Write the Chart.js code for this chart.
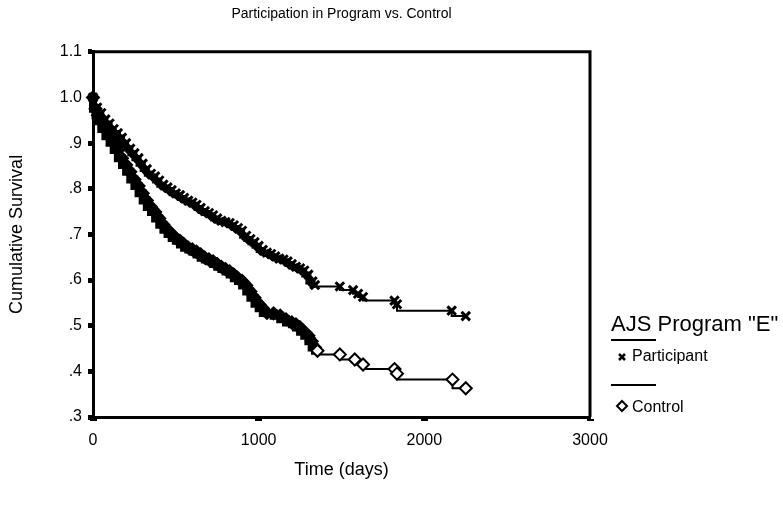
<!DOCTYPE html>
<html>
<head>
<meta charset="utf-8">
<script src="https://cdn.jsdelivr.net/npm/chart.js@4"></script>
<style>
  html, body { margin: 0; padding: 0; background: #fff; }
</style>
</head>
<body>
<canvas id="chart" width="783" height="514"></canvas>
<script>
const FONT = '"Liberation Sans", Arial, Helvetica, sans-serif';

const chartTitle = 'Participation in Program vs. Control';
const xTitle = 'Time (days)';
const yTitle = 'Cumulative Survival';
const legendTitle = 'AJS Program "E"';
const seriesNames = ['Participant', 'Control'];

const xTickValues = [0, 1000, 2000, 3000];
const xTickLabels = ['0', '1000', '2000', '3000'];
const yTickValues = [0.3, 0.4, 0.5, 0.6, 0.7, 0.8, 0.9, 1.0, 1.1];
const yTickLabels = ['.3', '.4', '.5', '.6', '.7', '.8', '.9', '1.0', '1.1'];

// Kaplan-Meier estimates (days, cumulative survival)
const partDays = [0, 25, 50, 75, 100, 125, 150, 175, 200, 225, 250, 275, 300, 325, 350, 375, 400, 425, 450, 475,
  500, 525, 550, 575, 600, 625, 650, 675, 700, 725, 750, 775, 800, 825, 850, 875, 900, 925, 950, 975,
  1000, 1025, 1050, 1075, 1100, 1125, 1150, 1175, 1200, 1225, 1250, 1275, 1300, 1325, 1340,
  1490, 1570, 1600, 1630, 1820, 1835, 2165, 2250];
const partSurv = [1.0, 0.978, 0.966, 0.952, 0.943, 0.931, 0.922, 0.912, 0.9, 0.888, 0.878, 0.867, 0.855, 0.843, 0.833, 0.827, 0.818, 0.809, 0.803, 0.797,
  0.79, 0.786, 0.78, 0.774, 0.77, 0.765, 0.758, 0.751, 0.747, 0.742, 0.735, 0.73, 0.727, 0.725, 0.72, 0.714, 0.708, 0.697, 0.69, 0.683,
  0.675, 0.666, 0.66, 0.657, 0.652, 0.647, 0.645, 0.641, 0.635, 0.629, 0.626, 0.621, 0.612, 0.597, 0.589,
  0.586, 0.578, 0.57, 0.563, 0.555, 0.547, 0.533, 0.521];

const ctrlDays = [0, 15, 30, 50, 75, 100, 125, 150, 175, 200, 225, 250, 275, 300, 325, 350, 375, 400, 425, 450, 475,
  500, 525, 550, 575, 600, 625, 650, 675, 700, 725, 750, 775, 800, 825, 850, 875, 900, 925, 950, 975,
  1000, 1025, 1050, 1090, 1130, 1165, 1200, 1225, 1250, 1275, 1300, 1320, 1340, 1355,
  1490, 1580, 1630, 1820, 1835, 2170, 2250];
const ctrlSurv = [1.0, 0.975, 0.961, 0.948, 0.931, 0.915, 0.901, 0.885, 0.867, 0.852, 0.837, 0.82, 0.806, 0.79, 0.774, 0.76, 0.749, 0.735, 0.721, 0.71, 0.701,
  0.692, 0.686, 0.678, 0.671, 0.667, 0.662, 0.656, 0.649, 0.645, 0.641, 0.635, 0.629, 0.624, 0.619, 0.612, 0.604, 0.598, 0.588, 0.575, 0.561,
  0.548, 0.538, 0.528, 0.527, 0.522, 0.514, 0.507, 0.503, 0.496, 0.487, 0.478, 0.466, 0.452, 0.445,
  0.437, 0.426, 0.415, 0.405, 0.395, 0.382, 0.363];

// where the censor marks stop piling up into a solid band
const PART_DENSE_END = 1340;
const CTRL_DENSE_END = 1355;

const toPoints = (days, surv) => days.map((d, i) => ({ x: d, y: surv[i] }));

// top and right edges of the frame
const framePlugin = {
  id: 'frame',
  beforeDatasetsDraw(chart) {
    const { ctx, chartArea: a } = chart;
    ctx.save();
    ctx.strokeStyle = '#000';
    ctx.lineWidth = 3;
    ctx.beginPath();
    ctx.moveTo(a.left, a.top);
    ctx.lineTo(a.right, a.top);
    ctx.lineTo(a.right, a.bottom);
    ctx.stroke();
    ctx.restore();
  },
};

function drawCross(ctx, x, y, r) {
  ctx.beginPath();
  ctx.moveTo(x - r, y - r); ctx.lineTo(x + r, y + r);
  ctx.moveTo(x + r, y - r); ctx.lineTo(x - r, y + r);
  ctx.stroke();
}

function drawDiamond(ctx, x, y, r) {
  ctx.beginPath();
  ctx.moveTo(x, y - r); ctx.lineTo(x + r, y); ctx.lineTo(x, y + r); ctx.lineTo(x - r, y);
  ctx.closePath();
  ctx.fillStyle = '#fff';
  ctx.fill();
  ctx.stroke();
}

// SPSS style legend: title, then a rule above each item
const legendPlugin = {
  id: 'spssLegend',
  afterDraw(chart) {
    const { ctx, chartArea: a } = chart;
    const x0 = a.right + 21;
    ctx.save();
    ctx.fillStyle = '#000';
    ctx.strokeStyle = '#000';
    ctx.textBaseline = 'middle';
    ctx.font = `22px ${FONT}`;
    ctx.fillText(legendTitle, x0, 325);

    ctx.lineWidth = 2;
    [340, 385].forEach((y) => {
      ctx.beginPath();
      ctx.moveTo(x0, y);
      ctx.lineTo(x0 + 45, y);
      ctx.stroke();
    });

    ctx.lineWidth = 2.5;
    drawCross(ctx, x0 + 11, 357, 3);
    ctx.lineWidth = 2;
    drawDiamond(ctx, x0 + 11, 406, 5);

    ctx.fillStyle = '#000';
    ctx.font = `16px ${FONT}`;
    ctx.fillText(seriesNames[0], x0 + 21, 357);
    ctx.fillText(seriesNames[1], x0 + 21, 408);
    ctx.restore();
  },
};

new Chart(document.getElementById('chart'), {
  type: 'line',
  data: {
    datasets: [
      {
        label: seriesNames[1],
        data: toPoints(ctrlDays, ctrlSurv),
        stepped: 'after',
        borderColor: '#000',
        borderWidth: 2,
        segment: { borderWidth: (c) => (c.p1.parsed.x <= CTRL_DENSE_END ? 8 : 2) },
        pointStyle: 'rectRot',
        pointRadius: 6,
        pointBorderWidth: 2,
        pointBorderColor: '#000',
        pointBackgroundColor: (c) => (c.raw && c.raw.x < CTRL_DENSE_END ? '#000' : '#fff'),
        clip: false,
      },
      {
        label: seriesNames[0],
        data: toPoints(partDays, partSurv),
        stepped: 'after',
        borderColor: '#000',
        borderWidth: 2,
        segment: { borderWidth: (c) => (c.p1.parsed.x <= PART_DENSE_END ? 6 : 2) },
        pointStyle: 'crossRot',
        pointRadius: 6,
        pointBorderWidth: 3,
        pointBorderColor: '#000',
        clip: false,
      },
    ],
  },
  options: {
    responsive: false,
    animation: false,
    layout: { padding: { top: 0, right: 193, bottom: 0, left: 0 } },
    plugins: {
      legend: { display: false },
      tooltip: { enabled: false },
      title: {
        display: true,
        text: chartTitle,
        fullSize: false,
        color: '#000',
        font: { family: FONT, size: 14, weight: 'normal' },
        padding: { top: 6, bottom: 29 },
      },
    },
    scales: {
      x: {
        type: 'linear',
        min: 0,
        max: 3000,
        afterBuildTicks: (s) => { s.ticks = xTickValues.map((v) => ({ value: v })); },
        afterFit: (s) => { s.height = 97; },
        border: { display: true, color: '#000', width: 3 },
        grid: { drawOnChartArea: false, drawTicks: true, tickLength: 4, tickWidth: 7, tickColor: '#000' },
        ticks: {
          color: '#000',
          font: { family: FONT, size: 16 },
          padding: 10,
          maxRotation: 0,
          callback: (v, i) => xTickLabels[i],
        },
        title: {
          display: true,
          text: xTitle,
          color: '#000',
          font: { family: FONT, size: 18 },
          padding: { top: 0, bottom: 33 },
        },
      },
      y: {
        type: 'linear',
        min: 0.3,
        max: 1.1,
        afterBuildTicks: (s) => { s.ticks = yTickValues.map((v) => ({ value: v })); },
        afterFit: (s) => { s.width = 93; },
        border: { display: true, color: '#000', width: 3 },
        grid: { drawOnChartArea: false, drawTicks: true, tickLength: 5, tickWidth: 5, tickColor: '#000' },
        ticks: {
          color: '#000',
          font: { family: FONT, size: 16 },
          padding: 6,
          callback: (v, i) => yTickLabels[i],
        },
        title: {
          display: true,
          text: yTitle,
          color: '#000',
          font: { family: FONT, size: 18 },
          padding: { top: 6, bottom: 0 },
        },
      },
    },
  },
  plugins: [framePlugin, legendPlugin],
});
</script>
</body>
</html>
